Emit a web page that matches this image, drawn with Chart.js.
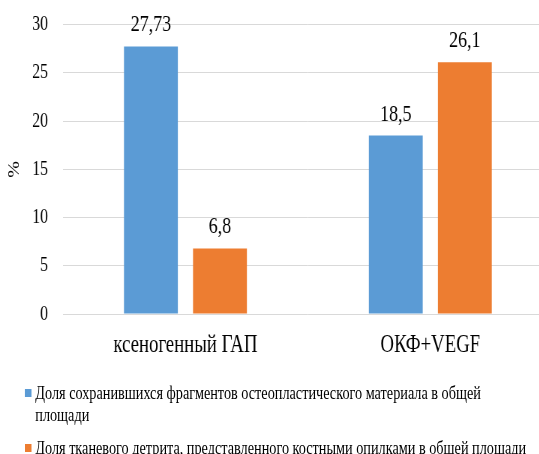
<!DOCTYPE html>
<html>
<head>
<meta charset="utf-8">
<script src="https://cdn.jsdelivr.net/npm/chart.js@4"></script>
<style>
  html, body { margin: 0; padding: 0; background: #fff; overflow: hidden; width: 539px; height: 454px; }
  #wrap { position: absolute; left: 0; top: 0; width: 737px; height: 454px; transform: scaleX(0.75); transform-origin: 0 0; }
  #c { position: absolute; left: 0; top: -8px; }
  .leg { position: absolute; left: 47px; font-family: "Liberation Serif", "Times New Roman", serif; font-size: 19px; line-height: 22px; color: #000; white-space: nowrap; }
  .sw { position: absolute; left: -14px; top: 7px; width: 9px; height: 8px; }
</style>
</head>
<body>
<div id="wrap">
  <canvas id="c" width="737" height="462" style="width:737px;height:462px"></canvas>
  <div id="legend"></div>
</div>
<script>
// Groups on the x axis
const categories = ["ксеногенный ГАП", "ОКФ+VEGF"];
// Series names (legend lines)
const seriesNames = [
  ["Доля сохранившихся фрагментов остеопластического материала в общей", "площади"],
  ["Доля тканевого детрита, представленного костными опилками в общей площади"]
];
// Values, %
const fragmentsShare = [27.73, 18.5];
const detritusShare = [6.8, 26.1];
// Y axis ticks
const yTicks = [0, 5, 10, 15, 20, 25, 30];

const colors = ["#5B9BD5", "#ED7D31"];
const serif = "'Liberation Serif', 'Times New Roman', serif";

// Value labels above the bars, decimal comma
const valueLabels = {
  id: "valueLabels",
  afterDatasetsDraw(chart) {
    const ctx = chart.ctx;
    ctx.save();
    ctx.font = "24px " + serif;
    ctx.fillStyle = "#000";
    ctx.textAlign = "center";
    ctx.textBaseline = "alphabetic";
    chart.data.datasets.forEach((ds, i) => {
      chart.getDatasetMeta(i).data.forEach((bar, j) => {
        const txt = String(ds.data[j]).replace(".", ",");
        ctx.fillText(txt, bar.x, bar.y - 15);
      });
    });
    ctx.restore();
  }
};

new Chart(document.getElementById("c"), {
  type: "bar",
  data: {
    labels: categories,
    datasets: [
      { label: seriesNames[0].join(" "), data: fragmentsShare, backgroundColor: colors[0] },
      { label: seriesNames[1].join(" "), data: detritusShare, backgroundColor: colors[1] }
    ]
  },
  options: {
    responsive: false,
    animation: false,
    devicePixelRatio: 1,
    categoryPercentage: 0.564,
    barPercentage: 0.78,
    layout: { padding: { top: 24, right: 0, bottom: 80, left: 0 } },
    plugins: { legend: { display: false }, tooltip: { enabled: false } },
    scales: {
      x: {
        grid: { display: false },
        border: { display: false },
        ticks: { color: "#000", font: { family: serif, size: 25 }, padding: 8 },
        afterFit(scale) { scale.height = 60; }
      },
      y: {
        min: 0,
        max: 30,
        afterBuildTicks(scale) { scale.ticks = yTicks.map(v => ({ value: v })); },
        grid: { color: "#d9d9d9", lineWidth: 1, drawTicks: false },
        border: { display: false },
        ticks: { color: "#000", font: { family: serif, size: 21 }, padding: 20 },
        title: { display: true, text: "%", color: "#000", font: { family: serif, size: 20 }, padding: { top: 8, bottom: 0 } },
        afterFit(scale) { scale.width = 84; }
      }
    }
  },
  plugins: [valueLabels]
});

// Legend below the plot
const legend = document.getElementById("legend");
const legendTops = [382, 437];
seriesNames.forEach((lines, i) => {
  const div = document.createElement("div");
  div.className = "leg";
  div.style.top = legendTops[i] + "px";
  const sw = document.createElement("span");
  sw.className = "sw";
  sw.style.background = colors[i];
  div.appendChild(sw);
  lines.forEach((ln, k) => {
    if (k > 0) div.appendChild(document.createElement("br"));
    div.appendChild(document.createTextNode(ln));
  });
  legend.appendChild(div);
});
</script>
</body>
</html>
